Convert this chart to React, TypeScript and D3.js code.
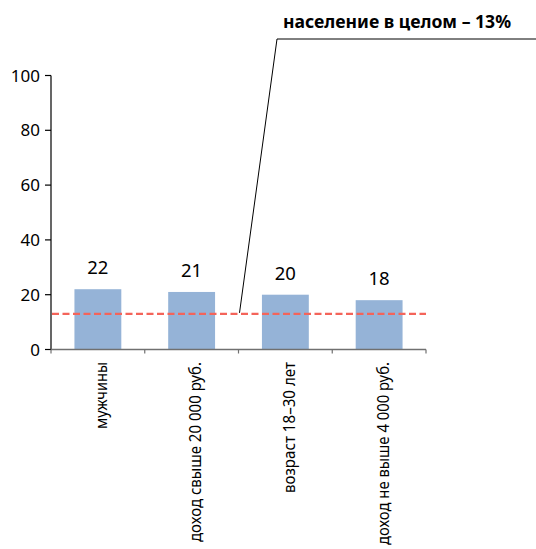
import React from "react";
import * as d3 from "d3";

const categories = ["мужчины", "доход свыше 20 000 руб.", "возраст 18–30 лет", "доход не выше 4 000 руб."];
const values = [22, 21, 20, 18];
const yTicks = [0, 20, 40, 60, 80, 100];
const referenceValue = 13;
const referenceLabel = "население в целом – 13%";

// rendered lengths of the rotated category labels (layout only)
const labelLengths = [67, 180, 131, 183];

const W = 536;
const H = 549;
const FONT = "'Noto Sans', 'Open Sans', sans-serif";

export default function App() {
  const x = d3.scaleBand<string>().domain(categories).range([51, 426]).paddingInner(0).paddingOuter(0);
  const y = d3.scaleLinear().domain([0, 100]).range([349.5, 75.5]);
  const bw = x.bandwidth();
  const barW = bw * 0.5;
  const refY = y(referenceValue);
  const leaderX = (x(categories[2]) as number) + 1;

  return (
    <svg width={W} height={H} style={{ position: "absolute", left: 0, top: 0 }} fontFamily={FONT}>
      <rect width={W} height={H} fill="#fff" />
      {categories.map((c, i) => (
        <rect key={c} x={(x(c) as number) + (bw - barW) / 2} y={y(values[i])} width={barW} height={y(0) - y(values[i])} fill="#95B3D7" />
      ))}
      {categories.map((c, i) => (
        <text key={c + "v"} x={(x(c) as number) + bw / 2} y={y(values[i]) - 15} textAnchor="middle" fontSize={18.5} fill="#000">
          {values[i]}
        </text>
      ))}
      <line x1={51} x2={51} y1={y(100)} y2={y(0)} stroke="#000" strokeWidth={1.2} />
      {yTicks.map((t) => (
        <g key={t}>
          <line x1={45} x2={51} y1={y(t)} y2={y(t)} stroke="#000" strokeWidth={1.2} />
          <text x={40} y={y(t)} dy="0.36em" textAnchor="end" fontSize={17} fill="#000">
            {t}
          </text>
        </g>
      ))}
      <line x1={51} x2={426} y1={y(0)} y2={y(0)} stroke="#707070" strokeWidth={1.6} />
      {[...categories.map((c) => x(c) as number), 426].map((tx, i) => (
        <line key={i} x1={tx} x2={tx} y1={y(0)} y2={y(0) + 4} stroke="#707070" strokeWidth={1.2} />
      ))}
      {categories.map((c, i) => {
        const cx = (x(c) as number) + bw / 2 + 9.5;
        return (
          <text key={c + "l"} transform={`translate(${cx},362) rotate(-90)`} textAnchor="end" fontSize={16} fill="#000" textLength={labelLengths[i]} lengthAdjust="spacingAndGlyphs">
            {c}
          </text>
        );
      })}
      <line x1={52} x2={426} y1={refY} y2={refY} stroke="#F4645A" strokeWidth={2.3} strokeDasharray="7,3.5" />
      <polyline points={`${leaderX},${refY - 1} 277,39 536,39`} fill="none" stroke="#000" strokeWidth={1} />
      <text x={511} y={28} textAnchor="end" fontSize={18} fontWeight="bold" fill="#000" textLength={228} lengthAdjust="spacingAndGlyphs">
        {referenceLabel}
      </text>
    </svg>
  );
}
